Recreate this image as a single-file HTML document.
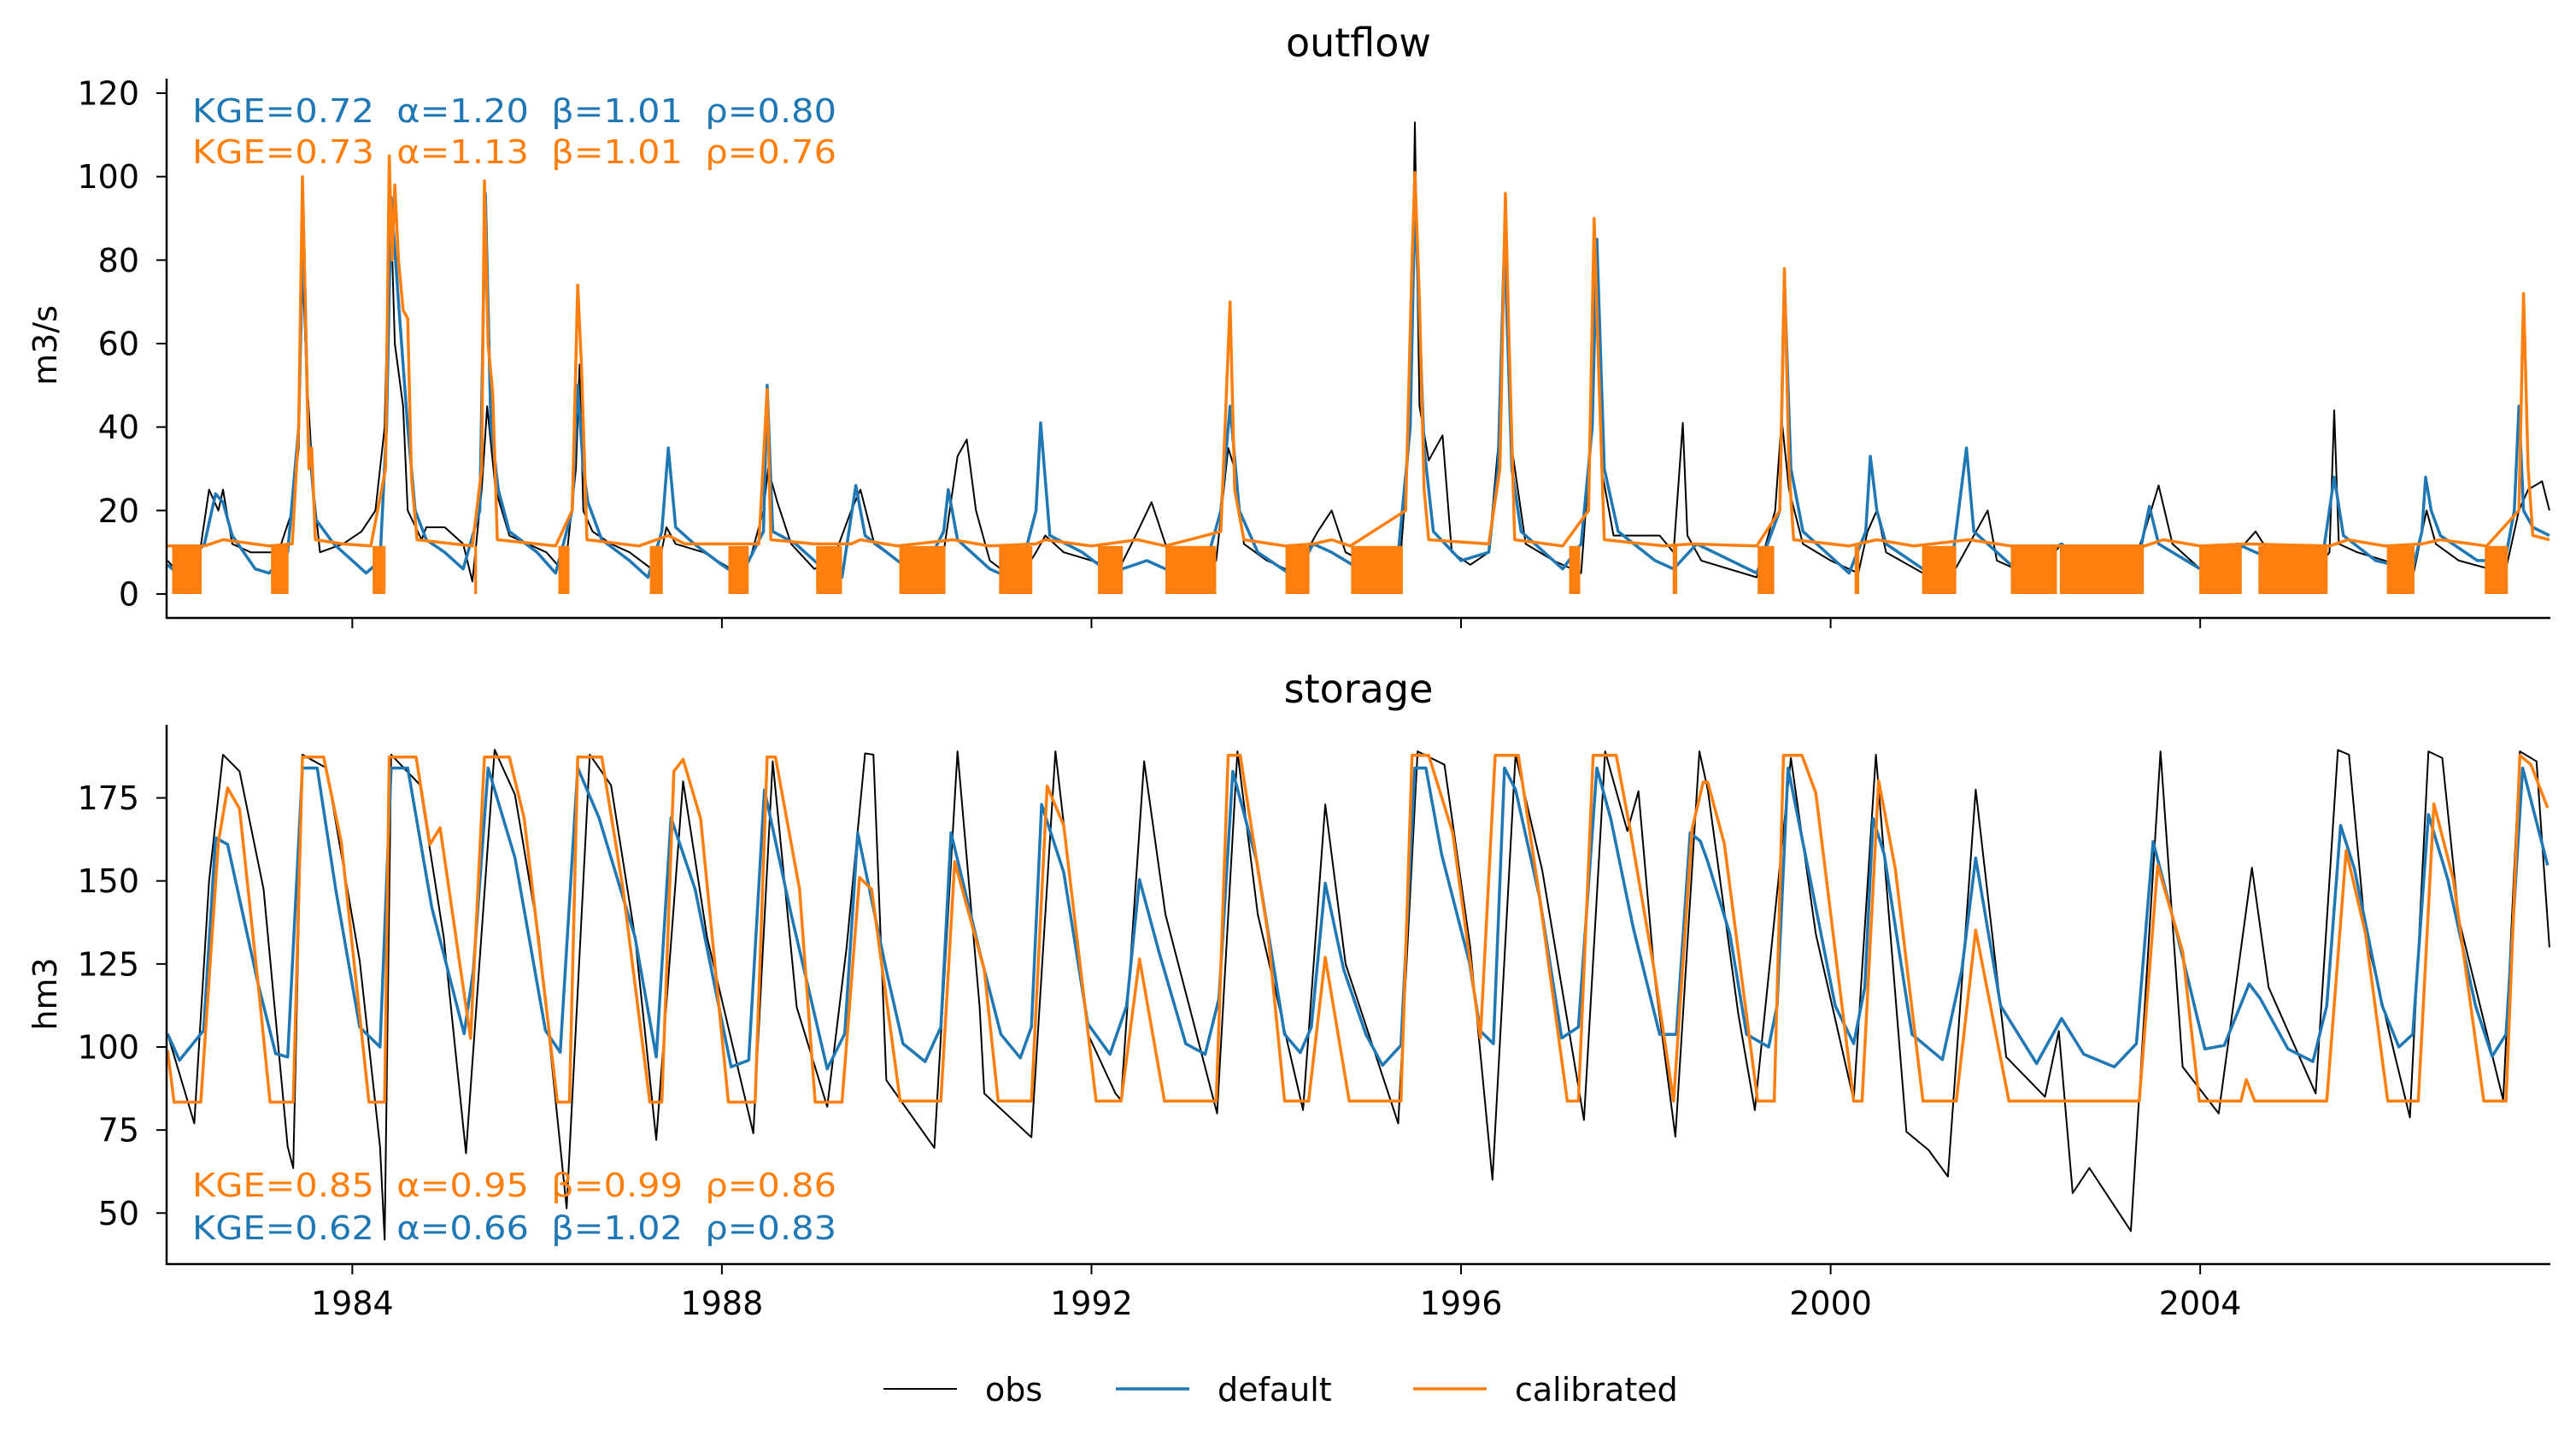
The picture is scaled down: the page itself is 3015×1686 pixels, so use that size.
<!DOCTYPE html>
<html><head><meta charset="utf-8"><style>
html,body{margin:0;padding:0;background:#fff}
svg{display:block}
text{font-family:"DejaVu Sans","Liberation Sans",sans-serif}
.pre{white-space:pre}
</style></head><body>
<svg id="fig" width="3015" height="1686" viewBox="0 0 3015 1686" xmlns="http://www.w3.org/2000/svg"></svg>
<script>
// ---------- data ----------
const xTicks = [1984, 1988, 1992, 1996, 2000, 2004];
const qTicks = [0, 20, 40, 60, 80, 100, 120];
const sTicks = [50, 75, 100, 125, 150, 175];

// outflow obs (time, value)
const qObsT = [1982.0,1982.2,1982.35,1982.45,1982.55,1982.6,1982.7,1982.9,1983.2,1983.35,1983.42,1983.46,1983.5,1983.58,1983.65,1983.9,1984.1,1984.25,1984.35,1984.41,1984.46,1984.55,1984.6,1984.75,1984.8,1985.0,1985.2,1985.3,1985.4,1985.46,1985.55,1985.7,1985.9,1986.1,1986.3,1986.42,1986.46,1986.5,1986.6,1986.8,1987.0,1987.3,1987.4,1987.5,1987.8,1988.1,1988.3,1988.45,1988.5,1988.6,1988.75,1989.0,1989.2,1989.4,1989.5,1989.65,1989.9,1990.2,1990.4,1990.55,1990.65,1990.75,1990.9,1991.2,1991.4,1991.5,1991.7,1992.0,1992.3,1992.5,1992.65,1992.8,1993.1,1993.35,1993.48,1993.55,1993.65,1993.9,1994.2,1994.45,1994.6,1994.75,1995.1,1995.35,1995.45,1995.5,1995.55,1995.65,1995.8,1995.9,1996.1,1996.3,1996.42,1996.48,1996.55,1996.7,1997.0,1997.3,1997.4,1997.45,1997.52,1997.65,1997.9,1998.15,1998.3,1998.4,1998.45,1998.6,1999.2,1999.4,1999.47,1999.55,1999.7,2000.0,2000.3,2000.4,2000.5,2000.6,2001.0,2001.3,2001.5,2001.7,2001.8,2002.2,2002.5,2002.7,2003.2,2003.4,2003.55,2003.7,2004.0,2004.4,2004.6,2004.8,2005.2,2005.4,2005.45,2005.5,2005.7,2006.0,2006.3,2006.45,2006.55,2006.8,2007.3,2007.45,2007.55,2007.7,2007.78];
const qObsV = [8,3,10,25,20,25,12,10,10,20,35,80,55,25,10,12,15,20,40,97,60,45,20,13,16,16,12,3,25,45,25,14,12,10,5,30,55,20,15,12,10,5,16,12,10,6,8,20,30,22,12,6,8,20,25,12,8,5,10,33,37,20,8,3,10,14,10,8,6,15,22,12,6,8,35,30,12,8,5,15,20,10,6,10,40,113,45,32,38,10,7,10,40,87,35,12,8,5,35,82,30,14,14,14,10,41,14,8,4,20,42,25,12,8,5,15,20,10,5,4,12,20,8,4,12,5,3,15,26,12,6,10,15,8,4,10,44,12,10,8,4,20,12,8,5,20,25,27,20];

// outflow default
const qDefT = [1982.0,1982.1,1982.4,1982.52,1982.6,1982.7,1982.95,1983.1,1983.3,1983.42,1983.47,1983.52,1983.6,1983.8,1984.0,1984.15,1984.3,1984.37,1984.42,1984.5,1984.6,1984.68,1984.8,1985.0,1985.2,1985.38,1985.44,1985.5,1985.58,1985.7,1986.0,1986.2,1986.38,1986.44,1986.5,1986.55,1986.7,1987.0,1987.2,1987.35,1987.42,1987.5,1987.7,1988.0,1988.2,1988.45,1988.49,1988.55,1988.8,1989.1,1989.3,1989.45,1989.55,1989.9,1990.15,1990.4,1990.45,1990.55,1990.9,1991.2,1991.4,1991.45,1991.55,1991.9,1992.2,1992.6,1992.8,1993.2,1993.4,1993.5,1993.6,1993.8,1994.2,1994.4,1994.6,1994.9,1995.3,1995.45,1995.5,1995.6,1995.7,1996.0,1996.3,1996.4,1996.47,1996.55,1996.65,1997.1,1997.3,1997.42,1997.47,1997.55,1997.7,1998.1,1998.3,1998.55,1999.2,1999.45,1999.5,1999.57,1999.7,2000.2,2000.38,2000.43,2000.5,2000.6,2001.0,2001.3,2001.47,2001.55,2002.0,2002.5,2002.8,2003.3,2003.45,2003.55,2004.0,2004.4,2004.6,2005.1,2005.3,2005.45,2005.55,2005.9,2006.3,2006.4,2006.44,2006.5,2006.6,2007.0,2007.3,2007.4,2007.45,2007.5,2007.6,2007.78];
const qDefV = [7,5,12,24,22,14,6,5,10,40,90,40,18,12,8,5,8,40,95,70,40,20,13,10,6,20,96,40,25,15,10,5,20,50,30,22,13,8,4,15,35,16,12,7,4,15,50,15,12,6,4,26,14,8,4,15,25,13,6,3,20,41,14,10,5,8,6,4,20,45,20,10,4,12,10,6,5,40,95,35,15,8,10,30,85,30,15,6,12,40,85,30,15,8,6,12,5,20,75,30,15,5,15,33,20,12,6,5,35,15,6,12,7,5,21,12,6,12,10,6,5,28,14,8,6,15,28,20,14,8,8,20,45,20,16,14];

// outflow calibrated (line) + fast-oscillation blocks
const qCalT = [1982.0,1982.4,1982.6,1983.1,1983.35,1983.42,1983.46,1983.5,1983.53,1983.56,1983.6,1983.9,1984.2,1984.36,1984.40,1984.43,1984.46,1984.5,1984.55,1984.6,1984.64,1984.7,1985.3,1985.4,1985.43,1985.47,1985.52,1985.57,1986.0,1986.2,1986.38,1986.44,1986.48,1986.54,1987.1,1987.42,1987.6,1988.4,1988.49,1988.53,1989.0,1989.4,1989.5,1989.9,1990.5,1990.9,1991.4,1991.5,1992.0,1992.5,1992.8,1993.4,1993.5,1993.55,1993.65,1994.1,1994.4,1994.6,1994.8,1995.4,1995.47,1995.5,1995.55,1995.6,1995.65,1996.3,1996.42,1996.48,1996.52,1996.58,1997.1,1997.38,1997.44,1997.48,1997.55,1998.2,1998.5,1999.2,1999.45,1999.5,1999.55,1999.6,2000.2,2000.5,2000.9,2001.5,2001.95,2003.4,2003.6,2004.0,2004.5,2005.4,2005.6,2006.0,2006.4,2006.6,2007.1,2007.45,2007.5,2007.55,2007.6,2007.78];
const qCalV = [11.5,11.5,13,11.5,12,40,100,60,30,35,13,12,11.5,30,105,80,98,80,68,66,28,13,11.5,30,99,60,48,13,12,11.5,20,74,55,13,11.5,14,12,12,49,13,12,12,13,11.5,13,11.5,12,13,11.5,13,11.5,15,70,25,13,11.5,12,13,11.5,20,80,101,70,25,13,12,30,96,60,13,11.5,20,90,60,13,11.5,12,11.5,20,78,30,13,11.5,13,11.5,13,11.5,11.5,13,11.5,12,11.5,13,11.5,12,13,11.5,20,72,30,14,13];
const blockStart = [1982.05,1983.12,1984.22,1986.23,1987.22,1988.07,1989.02,1989.92,1991.0,1992.07,1992.80,1994.10,1994.81,1997.17,1998.29,1999.21,2000.26,2000.99,2002.48,2003.99,2004.63,2006.02,2007.08,1984.34,1985.32,2001.95];
const blockEnd   = [1982.37,1983.31,1984.34,1986.35,1987.36,1988.29,1989.30,1990.42,1991.36,1992.34,1993.35,1994.36,1995.37,1997.29,1998.34,1999.39,2000.31,2001.36,2003.39,2004.45,2005.38,2006.32,2007.33,1984.36,1985.35,2002.45];
const blockTop = 11.5;

// storage obs
const sObsT = [1982.0,1982.29,1982.45,1982.6,1982.78,1983.04,1983.3,1983.36,1983.46,1983.72,1984.08,1984.3,1984.35,1984.42,1984.73,1984.99,1985.23,1985.54,1985.76,1986.02,1986.32,1986.57,1986.8,1987.06,1987.29,1987.58,1987.84,1988.34,1988.55,1988.81,1989.14,1989.35,1989.55,1989.64,1989.78,1990.3,1990.55,1990.79,1990.84,1991.35,1991.61,1991.96,1992.26,1992.32,1992.57,1992.8,1993.36,1993.58,1993.8,1994.29,1994.53,1994.75,1995.32,1995.53,1995.82,1996.1,1996.34,1996.59,1996.88,1997.33,1997.56,1997.8,1997.92,1998.1,1998.32,1998.58,1998.67,1999.0,1999.18,1999.57,1999.84,2000.25,2000.49,2000.82,2001.06,2001.27,2001.57,2001.9,2002.32,2002.47,2002.62,2002.8,2003.25,2003.57,2003.81,2004.2,2004.56,2004.74,2005.25,2005.49,2005.61,2005.79,2006.27,2006.47,2006.62,2006.8,2007.28,2007.46,2007.64,2007.78];
const sObsV = [104,77,150,188,183,147.5,70,63.5,188,184,126,70,42,188,179,133,68,189.5,176,133,51.4,188,178.8,133,72,180,133,74,186,112,82,130,188.4,188,90,69.6,189,112,86,72.8,189,104,86,84,186,140,80,189,140,81,173,125,77,189,185,130,60,188,153,78,189,165,177,120,73,189,177.5,110,81,187,134,84,188,74.5,69,61,177.5,97,85,104.8,56,63.6,44.6,189,94,80,154,118,86,189.4,188,134,78.8,189,187,138.5,84,189,186,130];

// storage default
const sDefT = [1982.0,1982.13,1982.39,1982.52,1982.65,1982.98,1983.17,1983.3,1983.46,1983.62,1983.82,1984.08,1984.3,1984.42,1984.6,1984.86,1985.21,1985.31,1985.47,1985.76,1986.09,1986.25,1986.44,1986.67,1987.06,1987.29,1987.45,1987.71,1988.1,1988.29,1988.46,1988.75,1989.14,1989.33,1989.47,1989.78,1989.96,1990.2,1990.37,1990.48,1990.79,1991.02,1991.23,1991.35,1991.46,1991.7,1991.96,1992.2,1992.38,1992.52,1992.73,1993.02,1993.23,1993.38,1993.53,1993.79,1994.09,1994.26,1994.38,1994.53,1994.73,1994.97,1995.15,1995.35,1995.5,1995.62,1995.79,1996.09,1996.21,1996.35,1996.47,1996.59,1996.85,1997.09,1997.27,1997.47,1997.62,1997.86,1998.15,1998.33,1998.48,1998.59,1998.67,1998.91,1999.09,1999.33,1999.42,1999.54,1999.78,2000.05,2000.25,2000.37,2000.46,2000.58,2000.88,2001.21,2001.42,2001.57,2001.84,2002.23,2002.5,2002.74,2003.07,2003.31,2003.49,2003.75,2004.05,2004.26,2004.53,2004.65,2004.95,2005.22,2005.37,2005.52,2005.67,2005.97,2006.15,2006.3,2006.47,2006.68,2006.98,2007.16,2007.31,2007.49,2007.76];
const sDefV = [104,96,105,163,161,119,98,97,184,184,147.5,106,100,184,184,142,104,123,184,157,105,98.4,184,169,133,97,169,147.5,94,96,177.4,140,93.4,104,164.5,123,101,95.6,106,164.5,128.7,103.8,96.7,106,173,152.6,107,97.8,112.4,150.4,128.7,101,97.8,114.6,183,155.8,103.8,98.3,106,149.3,123.3,103.8,94.5,100.5,184,184,158,125.5,104.8,101,184,177.5,145,102.7,106,184,168.8,136.3,103.8,103.8,164.5,162,155.8,134,103.8,100,112.4,184,150.4,112.4,101,118,168.8,158,103.8,96.2,123.3,156.9,112.4,95,108.6,97.8,94,101,161.8,134,99.4,100.5,119,114.6,99.4,95.6,112.4,166.7,153.6,112.4,100,103.8,170,150.4,112.4,97.2,103.8,184,154.7];

// storage calibrated
const sCalT = [1982.0,1982.07,1982.36,1982.55,1982.65,1982.78,1982.98,1983.11,1983.36,1983.46,1983.69,1983.88,1984.18,1984.35,1984.40,1984.69,1984.84,1984.95,1985.28,1985.43,1985.70,1985.86,1986.22,1986.35,1986.44,1986.70,1986.93,1987.22,1987.35,1987.48,1987.58,1987.77,1988.07,1988.36,1988.49,1988.58,1988.84,1989.01,1989.30,1989.49,1989.62,1989.93,1990.37,1990.52,1990.84,1990.99,1991.35,1991.52,1991.70,1992.05,1992.32,1992.52,1992.79,1993.35,1993.48,1993.61,1993.91,1994.09,1994.35,1994.53,1994.79,1995.35,1995.47,1995.65,1995.91,1996.21,1996.37,1996.62,1996.85,1997.15,1997.27,1997.43,1997.68,1997.83,1998.09,1998.3,1998.50,1998.62,1998.67,1998.85,1999.21,1999.39,1999.49,1999.69,1999.84,2000.25,2000.34,2000.52,2000.70,2001.0,2001.36,2001.57,2001.93,2003.34,2003.54,2003.81,2003.99,2004.44,2004.5,2004.59,2005.37,2005.58,2005.79,2006.03,2006.36,2006.53,2006.74,2007.07,2007.31,2007.46,2007.58,2007.76];
const sCalV = [99,83.4,83.4,161.7,178,171.7,119,83.4,83.4,187.3,187.3,161.7,83.4,83.4,187.3,187.3,161,166,102.6,187.3,187.3,168.8,83.4,83.4,187.3,187.3,147.5,83.4,83.4,183,186.6,168.8,83.4,83.4,187.3,187.3,147.5,83.4,83.4,151,147.5,83.7,83.7,155.8,123.3,83.7,83.7,178.6,166.7,83.7,83.7,126.5,83.7,83.7,187.8,187.8,134.1,83.7,83.7,127,83.7,83.7,187.8,187.8,164.5,102.7,187.8,187.8,145,83.7,83.7,187.8,187.8,165.6,123.3,83.7,165.6,179.7,179.7,161.2,83.7,83.7,187.8,187.8,176.4,83.7,83.7,180.2,153.6,83.7,83.7,135.2,83.7,83.7,154.7,128.7,83.7,83.7,90.2,83.7,83.7,159.1,134.1,83.7,83.7,173.2,150.4,83.7,83.7,187.8,185,172];

// ---------- layout ----------
const NS = 'http://www.w3.org/2000/svg';
const svg = document.getElementById('fig');
const X0 = 195, X1 = 2985, T0 = 1981.99, T1 = 2007.79;
const xs = t => X0 + (t - T0) / (T1 - T0) * (X1 - X0);
const qy = v => 695 - v * (695 - 109) / 120;
const sy = v => 1225 - (v - 100) * (1225 - 1419.3) / (-50);
const C_OBS = '#000', C_DEF = '#1f77b4', C_CAL = '#ff7f0e';

function mk(tag, attrs, parent) {
  const e = document.createElementNS(NS, tag);
  for (const k in attrs) e.setAttribute(k, attrs[k]);
  (parent || svg).appendChild(e);
  return e;
}
function line(T, V, fy, color, w, name, g) {
  let d = '';
  for (let i = 0; i < T.length; i++) d += (i ? 'L' : 'M') + xs(T[i]).toFixed(1) + ' ' + fy(V[i]).toFixed(1);
  const p = mk('path', {d: d, fill: 'none', stroke: color, 'stroke-width': w, 'stroke-linejoin': 'round'}, g);
  
  
  return p;
}
function txt(x, y, s, attrs, name) {
  const t = mk('text', Object.assign({x: x, y: y}, attrs));
  t.textContent = s;
  
  
  return t;
}

// ---------- outflow panel ----------
const gq = mk('g', {});


const clipQ = mk('clipPath', {id: 'cq'}); mk('rect', {x: X0, y: 80, width: X1 - X0, height: 643}, clipQ);
const gqd = mk('g', {'clip-path': 'url(#cq)'}, gq);
line(qObsT, qObsV, qy, C_OBS, 2, 'outflow-obs-line', gqd);
line(qDefT, qDefV, qy, C_DEF, 3.5, 'outflow-default-line', gqd);
for (let i = 0; i < blockStart.length; i++) {
  if (blockEnd[i] <= blockStart[i]) continue;
  const r = mk('rect', {x: xs(blockStart[i]), y: qy(blockTop), width: xs(blockEnd[i]) - xs(blockStart[i]), height: qy(0) - qy(blockTop), fill: C_CAL}, gqd);
  
  
}
line(qCalT, qCalV, qy, C_CAL, 3.5, 'outflow-calibrated-line', gqd);

// storage panel
const clipS = mk('clipPath', {id: 'cs'}); mk('rect', {x: X0, y: 848, width: X1 - X0, height: 631}, clipS);
const gs = mk('g', {'clip-path': 'url(#cs)'});


line(sObsT, sObsV, sy, C_OBS, 2, 'storage-obs-line', gs);
line(sDefT, sDefV, sy, C_DEF, 3.5, 'storage-default-line', gs);
line(sCalT, sCalV, sy, C_CAL, 3.5, 'storage-calibrated-line', gs);

// ---------- axes ----------
function spines(top, bottom, name) {
  const p = mk('path', {d: `M${X0} ${top}V${bottom}H${X1}`, fill: 'none', stroke: '#000', 'stroke-width': 2.5});
  
  
}
spines(92, 723, 'outflow-axes');
spines(848, 1479, 'storage-axes');
for (const v of qTicks) {
  const t = mk('line', {x1: X0 - 12, x2: X0, y1: qy(v), y2: qy(v), stroke: '#000', 'stroke-width': 2});
  
  
  txt(163, qy(v) + 13.5, String(v), {'font-size': 38, 'text-anchor': 'end'}, 'outflow-y-tick-label');
}
for (const v of sTicks) {
  const t = mk('line', {x1: X0 - 12, x2: X0, y1: sy(v), y2: sy(v), stroke: '#000', 'stroke-width': 2});
  
  
  txt(163, sy(v) + 13.5, String(v), {'font-size': 38, 'text-anchor': 'end'}, 'storage-y-tick-label');
}
for (const yr of xTicks) {
  const a = mk('line', {x1: xs(yr), x2: xs(yr), y1: 723, y2: 735, stroke: '#000', 'stroke-width': 2});
  
  
  const b = mk('line', {x1: xs(yr), x2: xs(yr), y1: 1479, y2: 1491, stroke: '#000', 'stroke-width': 2});
  
  
  txt(xs(yr), 1538, String(yr), {'font-size': 38, 'text-anchor': 'middle'}, 'x-tick-label');
}

// titles & labels
txt(1590, 66, 'outflow', {'font-size': 46, 'text-anchor': 'middle'}, 'outflow-title');
txt(1590, 822, 'storage', {'font-size': 46, 'text-anchor': 'middle'}, 'storage-title');
txt(0, 0, 'm3/s', {'font-size': 38, 'text-anchor': 'middle', transform: 'translate(66,404) rotate(-90)'}, 'outflow-y-axis-title');
txt(0, 0, 'hm3', {'font-size': 38, 'text-anchor': 'middle', transform: 'translate(66,1163) rotate(-90)'}, 'storage-y-axis-title');

// metrics
const mAttrs = {'font-size': 38, 'class': 'pre', textLength: 754, lengthAdjust: 'spacingAndGlyphs'};
txt(225, 143, 'KGE=0.72\u00a0\u00a0α=1.20\u00a0\u00a0β=1.01\u00a0\u00a0ρ=0.80', Object.assign({fill: C_DEF}, mAttrs), 'outflow-default-metrics');
txt(225, 191, 'KGE=0.73\u00a0\u00a0α=1.13\u00a0\u00a0β=1.01\u00a0\u00a0ρ=0.76', Object.assign({fill: C_CAL}, mAttrs), 'outflow-calibrated-metrics');
txt(225, 1400, 'KGE=0.85\u00a0\u00a0α=0.95\u00a0\u00a0β=0.99\u00a0\u00a0ρ=0.86', Object.assign({fill: C_CAL}, mAttrs), 'storage-calibrated-metrics');
txt(225, 1450, 'KGE=0.62\u00a0\u00a0α=0.66\u00a0\u00a0β=1.02\u00a0\u00a0ρ=0.83', Object.assign({fill: C_DEF}, mAttrs), 'storage-default-metrics');

// legend
const lg = mk('g', {});


const legNames = ['obs', 'default', 'calibrated'];
const legColors = [C_OBS, C_DEF, C_CAL];
const legWidths = [2, 3.5, 3.5];
const legX = [1034, 1306, 1654];
for (let i = 0; i < 3; i++) {
  const l = mk('line', {x1: legX[i], x2: legX[i] + 86, y1: 1625, y2: 1625, stroke: legColors[i], 'stroke-width': legWidths[i]}, lg);
  
  
  txt(legX[i] + 119, 1639, legNames[i], {'font-size': 38}, 'legend-entry-' + legNames[i]);
}
</script>
</body></html>
